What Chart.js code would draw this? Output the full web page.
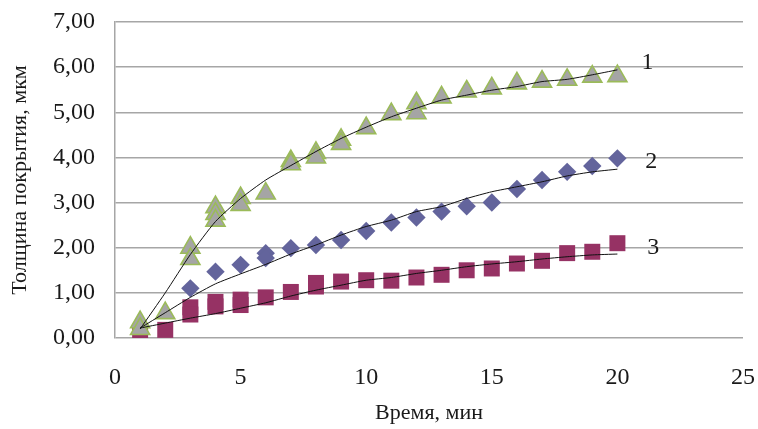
<!DOCTYPE html>
<html>
<head>
<meta charset="utf-8">
<script src="https://cdn.jsdelivr.net/npm/chart.js@4/dist/chart.umd.min.js"></script>
<style>
  html, body { margin: 0; padding: 0; background: #fff; }
  #wrap { width: 758px; height: 429px; }
</style>
</head>
<body>
<div id="wrap"><canvas id="chart" width="758" height="429"></canvas></div>
<script>
// Series 1 (triangles)
const triX = [1, 1, 2, 3, 3, 4, 4, 4, 5, 5, 6, 7, 7, 8, 8, 9, 9, 10, 11, 12, 12, 13, 14, 15, 16, 17, 18, 19, 20];
const triY = [0.35, 0.2, 0.55, 2.0, 1.75, 2.9, 2.75, 2.6, 3.1, 2.95, 3.2, 3.92, 3.85, 4.1, 4.0, 4.39, 4.3, 4.65, 4.96, 5.2, 4.98, 5.33, 5.46, 5.53, 5.64, 5.68, 5.72, 5.79, 5.8];
// Series 2 (diamonds)
const diaX = [3, 4, 5, 6, 6, 7, 8, 9, 10, 11, 12, 13, 14, 15, 16, 17, 18, 19, 20];
const diaY = [1.1, 1.47, 1.62, 1.88, 1.77, 1.99, 2.06, 2.17, 2.37, 2.56, 2.67, 2.8, 2.92, 3.0, 3.3, 3.5, 3.68, 3.81, 3.98];
// Series 3 (squares)
const sqX = [1, 2, 3, 3, 4, 4, 5, 5, 6, 7, 8, 8, 9, 10, 11, 12, 13, 14, 15, 16, 17, 18, 19, 20];
const sqY = [0.1, 0.18, 0.68, 0.52, 0.8, 0.7, 0.85, 0.73, 0.9, 1.02, 1.22, 1.14, 1.25, 1.28, 1.27, 1.34, 1.4, 1.5, 1.54, 1.65, 1.71, 1.88, 1.91, 2.1];
// trend lines
const trendX = [1, 2, 3, 4, 5, 6, 7, 8, 9, 10, 11, 12, 13, 14, 15, 16, 17, 18, 19, 20];
const trend1 = [0.2, 1.0, 1.85, 2.58, 3.09, 3.5, 3.82, 4.13, 4.42, 4.67, 4.9, 5.09, 5.27, 5.38, 5.49, 5.57, 5.68, 5.73, 5.83, 5.94];
const trend2 = [0.22, 0.56, 0.9, 1.2, 1.42, 1.63, 1.86, 2.06, 2.28, 2.47, 2.61, 2.8, 2.91, 3.09, 3.24, 3.35, 3.46, 3.59, 3.68, 3.74];
const trend3 = [0.22, 0.33, 0.44, 0.54, 0.66, 0.78, 0.93, 1.06, 1.17, 1.28, 1.34, 1.43, 1.5, 1.58, 1.64, 1.69, 1.75, 1.8, 1.84, 1.86];
// curve labels
const curveLabels = ['1', '2', '3'];
const curveLabelAt = [[21.2, 6.09], [21.35, 3.9], [21.43, 1.99]];

const xTicks = [0, 5, 10, 15, 20, 25];
const yTicks = [0, 1, 2, 3, 4, 5, 6, 7];

const serif = "'Liberation Serif', 'DejaVu Serif', serif";
const pts = (xs, ys) => xs.map((x, i) => ({ x: x, y: ys[i] }));

const curveLabelPlugin = {
    id: 'curveLabels',
    afterDatasetsDraw(chart) {
        const ctx = chart.ctx;
        const xs = chart.scales.x, ys = chart.scales.y;
        ctx.save();
        ctx.font = "24px " + serif;
        ctx.fillStyle = '#1a1a1a';
        ctx.textAlign = 'center';
        ctx.textBaseline = 'middle';
        curveLabels.forEach((t, i) => {
            ctx.fillText(t, xs.getPixelForValue(curveLabelAt[i][0]), ys.getPixelForValue(curveLabelAt[i][1]));
        });
        ctx.restore();
    }
};

function lineSet(ys) {
    return {
        type: 'line',
        data: pts(trendX, ys),
        borderColor: '#111',
        borderWidth: 1,
        pointRadius: 0,
        tension: 0.2,
        fill: false,
        order: 0
    };
}

new Chart(document.getElementById('chart'), {
    type: 'scatter',
    data: {
        datasets: [
            lineSet(trend1),
            lineSet(trend2),
            lineSet(trend3),
            {
                data: pts(triX, triY),
                pointStyle: 'triangle',
                pointRadius: 11,
                backgroundColor: '#a5a5a5',
                borderColor: '#9bbb59',
                borderWidth: 1.6,
                order: 1
            },
            {
                data: pts(sqX, sqY),
                pointStyle: 'rect',
                pointRadius: 11.3,
                backgroundColor: '#963264',
                borderColor: '#963264',
                borderWidth: 0,
                order: 2
            },
            {
                data: pts(diaX, diaY),
                pointStyle: 'rectRot',
                pointRadius: 9.2,
                backgroundColor: '#63649c',
                borderColor: '#63649c',
                borderWidth: 0,
                order: 3
            }
        ]
    },
    options: {
        responsive: false,
        animation: false,
        layout: { padding: { top: 22, right: 15, left: 0, bottom: 0 } },
        plugins: { legend: { display: false }, tooltip: { enabled: false } },
        scales: {
            x: {
                type: 'linear',
                min: 0, max: 25,
                afterBuildTicks: s => { s.ticks = xTicks.map(v => ({ value: v })); },
                afterFit: s => { s.height = 91; s.paddingLeft = 0; s.paddingRight = 12; },
                grid: { display: false, drawTicks: false },
                border: { display: false },
                ticks: { padding: 25, maxRotation: 0, color: '#1a1a1a', font: { family: serif, size: 24 } },
                title: {
                    display: true, text: 'Время, мин', color: '#1a1a1a',
                    font: { family: serif, size: 22 }, padding: { top: 0, bottom: 3 }
                }
            },
            y: {
                min: 0, max: 7,
                afterBuildTicks: s => { s.ticks = yTicks.map(v => ({ value: v })); },
                afterFit: s => { s.width = 115; s.paddingTop = 0; s.paddingBottom = 0; },
                grid: { color: '#a6a6a6', lineWidth: 1.5, drawTicks: false },
                border: { display: true, color: '#a6a6a6', width: 1.5 },
                ticks: {
                    padding: 20, color: '#1a1a1a', font: { family: serif, size: 24 },
                    callback: v => v.toFixed(2).replace('.', ',')
                },
                title: {
                    display: true, text: 'Толщина покрытия, мкм', color: '#1a1a1a',
                    font: { family: serif, size: 22 }, padding: { top: 7, bottom: 0 }
                }
            }
        }
    },
    plugins: [curveLabelPlugin]
});
</script>
</body>
</html>
